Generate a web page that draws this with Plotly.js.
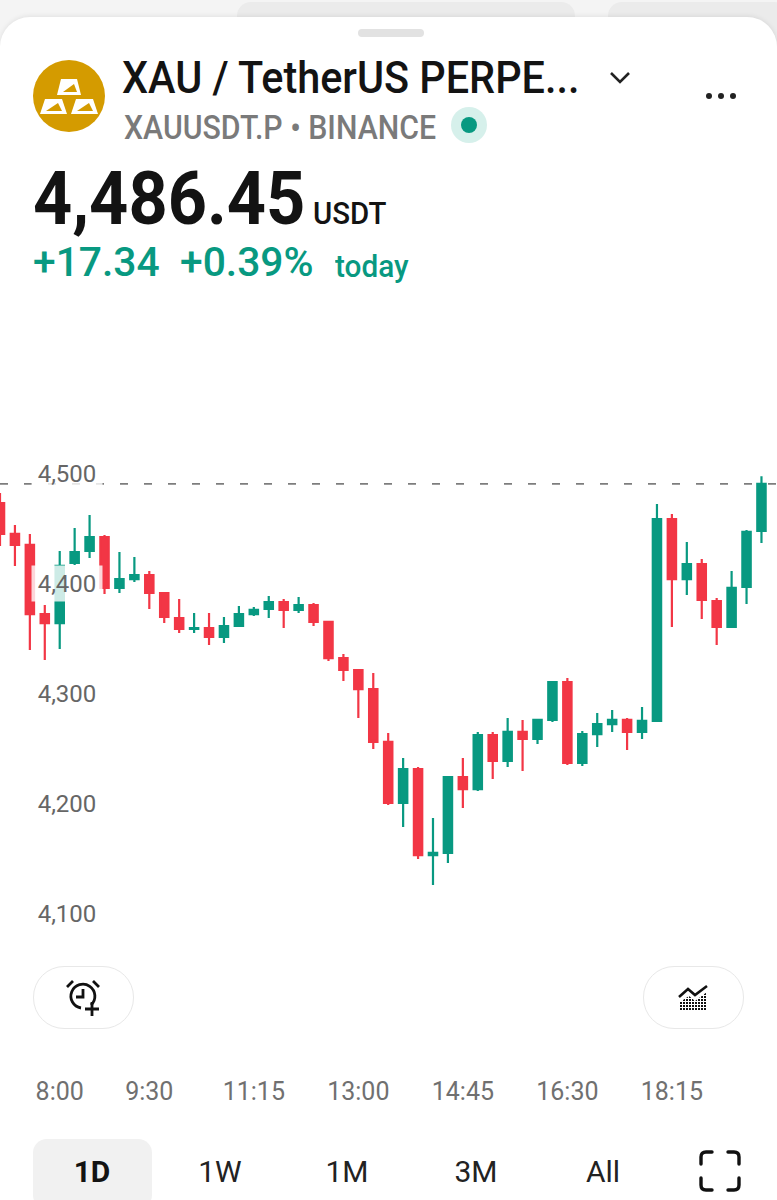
<!DOCTYPE html>
<html><head><meta charset="utf-8">
<script src="https://cdn.plot.ly/plotly-3.0.1.min.js"></script>
<style>
html,body{margin:0;padding:0;background:#f4f4f4;width:777px;height:1200px;overflow:hidden;font-family:Roboto,sans-serif}
.abs{position:absolute;white-space:nowrap;line-height:1}
#tab1,#tab2{position:absolute;top:2px;height:40px;background:#ebebeb;border-radius:14px}
#card{position:absolute;left:0;top:17px;width:777px;height:1183px;background:#fff;border-radius:30px 30px 0 0;box-shadow:0 -1px 5px rgba(0,0,0,.08)}
#plot{position:absolute;left:0;top:430px;width:777px;height:680px}
.pill{position:absolute;top:966px;width:99px;height:61px;border:1.5px solid #e8e8e8;border-radius:31px;background:#fff}
</style></head><body>
<div id="tab1" style="left:237px;width:338px"></div>
<div id="tab2" style="left:608px;width:180px"></div>
<div id="card"></div>
<div class="abs" style="left:358px;top:29px;width:66px;height:8px;border-radius:4px;background:#e2e2e2"></div>
<svg class="abs" style="left:33px;top:60px" width="72" height="72" viewBox="0 0 72 72">
<circle cx="36" cy="36" r="36" fill="#d49b00"/>
<path d="M28 19 L44 19 L48 35 L24 35 Z M12 39 L29 39 L34 54 L7 54 Z M43 39 L60 39 L65 54 L38 54 Z" fill="#fff"/>
<path d="M30 32 L41 24 L44 32 Z M13 51 L25 43 L29 51 Z M44 51 L56 43 L60 51 Z" fill="#d49b00"/>
</svg>
<div class="abs" id="t1" style="left:122px;top:56px;font-size:44px;font-weight:500;color:#131313;transform-origin:left;transform:scaleX(.94)">XAU / TetherUS PERPE...</div>
<svg class="abs" style="left:608px;top:70px" width="24" height="16"><path d="M3 3 L12 12 L21 3" fill="none" stroke="#222" stroke-width="2.6"/></svg>
<svg class="abs" style="left:704px;top:90px" width="34" height="12"><circle cx="5" cy="6" r="3" fill="#222"/><circle cx="17" cy="6" r="3" fill="#222"/><circle cx="29" cy="6" r="3" fill="#222"/></svg>
<div class="abs" id="t2" style="left:124px;top:111px;font-size:33px;font-weight:500;color:#7a7a7a;transform-origin:left;transform:scaleX(.917)">XAUUSDT.P • BINANCE</div>
<svg class="abs" style="left:451px;top:107px" width="36" height="36"><circle cx="18" cy="18" r="18" fill="#d6f0eb"/><circle cx="18" cy="18" r="8" fill="#089981"/></svg>
<div class="abs" id="t3" style="left:33px;top:162px;font-size:74px;font-weight:700;color:#131313;transform-origin:left;transform:scaleX(.925)">4,486.45</div>
<div class="abs" style="left:313px;top:197px;font-size:32px;font-weight:500;color:#131313;transform-origin:left;transform:scaleX(.92)">USDT</div>
<div class="abs" style="left:33px;top:243px;font-size:40px;font-weight:500;color:#089981;transform-origin:left;transform:scaleX(1.02)">+17.34</div>
<div class="abs" style="left:180px;top:243px;font-size:40px;font-weight:500;color:#089981;transform-origin:left;transform:scaleX(1.02)">+0.39%</div>
<div class="abs" style="left:335px;top:251px;font-size:31px;font-weight:500;color:#089981;transform-origin:left;transform:scaleX(.96)">today</div>
<div id="plot"></div>
<div class="pill" style="left:33px"></div>
<div class="pill" style="left:643px"></div>
<svg class="abs" style="left:62px;top:978px" width="44" height="40" viewBox="0 0 44 40" fill="none" stroke="#111" stroke-width="2.8">
<path d="M29 27 A12 12 0 1 0 19 30"/><path d="M21 11 V19 H14"/><path d="M5 9 L11 3 M37 9 L31 3"/><path d="M30 24 V38 M23 31 H37"/></svg>
<svg class="abs" style="left:677px;top:984px" width="34" height="28" viewBox="0 0 34 28">
<defs><pattern id="dots" width="3" height="3" patternUnits="userSpaceOnUse"><rect width="2" height="2" fill="#111"/></pattern></defs>
<path d="M3 26 V18 L12 12 L18 17 L30 8 V26 Z" fill="url(#dots)"/>
<path d="M2 13 L11 5 L18 11 L30 2" fill="none" stroke="#111" stroke-width="2.6"/></svg>
<div class="abs" style="left:33px;top:1139px;width:119px;height:70px;border-radius:14px;background:#f1f1f1"></div>
<div class="abs" style="left:92px;top:1172px;font-size:30px;font-weight:700;color:#131313;transform:translate(-50%,-50%)">1D</div>
<div class="abs" style="left:220px;top:1172px;font-size:30px;color:#222;transform:translate(-50%,-50%)">1W</div>
<div class="abs" style="left:347px;top:1172px;font-size:30px;color:#222;transform:translate(-50%,-50%)">1M</div>
<div class="abs" style="left:476px;top:1172px;font-size:30px;color:#222;transform:translate(-50%,-50%)">3M</div>
<div class="abs" style="left:603px;top:1172px;font-size:30px;color:#222;transform:translate(-50%,-50%)">All</div>
<svg class="abs" style="left:699px;top:1150px" width="42" height="42" fill="none" stroke="#111" stroke-width="3.4" stroke-linecap="round">
<path d="M2 14 V7 Q2 2 7 2 H13 M29 2 H35 Q40 2 40 7 V14 M2 28 V35 Q2 40 7 40 H13 M40 28 V35 Q40 40 35 40 H29"/></svg>
<script>
const times = ["7:00","7:15","7:30","7:45","8:00","8:15","8:30","8:45","9:00","9:15","9:30","9:45","10:00","10:15","10:30","10:45","11:00","11:15","11:30","11:45","12:00","12:15","12:30","12:45","13:00","13:15","13:30","13:45","14:00","14:15","14:30","14:45","15:00","15:15","15:30","15:45","16:00","16:15","16:30","16:45","17:00","17:15","17:30","17:45","18:00","18:15","18:30","18:45","19:00","19:15","19:30","19:45"];
const opens = [4473.6,4445.5,4435.5,4372.7,4364.5,4419.1,4430,4442.7,4396.4,4404.5,4408.2,4391.8,4369.1,4359.1,4360,4351.8,4361.8,4372.7,4377.3,4383.6,4376.4,4380.9,4365.5,4332.7,4321.8,4304.5,4256.4,4200.9,4231.8,4153.6,4155.5,4224.5,4213.6,4262.7,4239.1,4265.5,4259.1,4276.4,4310.9,4237.3,4263.6,4272.7,4276.4,4265.5,4275.5,4459.1,4404.5,4418.2,4384.5,4360.9,4397.3,4448.2];
const highs = [4482.7,4453.6,4445.5,4380.9,4430,4450.9,4462.7,4444.5,4429.1,4424.5,4411.8,4391.8,4386.4,4373.6,4373.6,4370,4380,4379.1,4389.1,4386.4,4388.2,4382.7,4365.5,4336.4,4321.8,4319.1,4264.5,4241.8,4233.6,4187.3,4225.5,4241.8,4265.5,4265.5,4278.2,4276.4,4277.3,4310.9,4314.5,4266.4,4282.7,4285.5,4278.2,4288.2,4472.7,4463.6,4438.2,4422.7,4387.3,4411.8,4449.1,4498];
const lows = [4434.5,4416.4,4340,4330.9,4340.9,4417.3,4423.6,4390.9,4391.8,4401.8,4377.3,4364.5,4355.5,4355.5,4344.5,4346.4,4361.8,4370.9,4369.1,4360,4373.6,4361.8,4330,4311.8,4278.2,4250,4199.1,4179.1,4150,4126.4,4146.4,4196.4,4211.8,4222.7,4233.6,4230,4254.5,4274.5,4235.5,4234.5,4251.8,4265.5,4249.1,4259.1,4275.5,4360.9,4390,4368.2,4344.5,4360.9,4381.8,4437.3];
const closes = [4445.5,4435.5,4372.7,4364.5,4416.4,4429.1,4442.7,4396.4,4404.5,4408.2,4391.8,4370,4359.1,4360,4351.8,4361.8,4372.7,4376.4,4383.6,4376.4,4380.9,4365.5,4332.7,4321.8,4304.5,4256.4,4200.9,4231.8,4153.6,4155.5,4224.5,4213.6,4262.7,4239.1,4265.5,4259.1,4276.4,4310.9,4237.3,4263.6,4272.7,4276.4,4265.5,4275.5,4459.1,4404.5,4418.2,4385.5,4360.9,4396.4,4447.3,4491];
const xTickVals = ["8:00","9:30","11:15","13:00","14:45","16:30","18:15"];
const yTickVals = [4100,4200,4300,4400,4500];
const yTickText = ["4,100","4,200","4,300","4,400","4,500"];
const GREEN = "#089981", RED = "#f23645";

const trace = {
  type: "candlestick", x: times, open: opens, high: highs, low: lows, close: closes,
  whiskerwidth: 0, hoverinfo: "skip",
  increasing: {line: {color: GREEN, width: 2.2}, fillcolor: GREEN},
  decreasing: {line: {color: RED, width: 2.2}, fillcolor: RED}
};
const layout = {
  width: 777, height: 680,
  margin: {l: 0, r: 0, t: 0, b: 42},
  paper_bgcolor: "rgba(0,0,0,0)", plot_bgcolor: "rgba(0,0,0,0)",
  showlegend: false, boxgap: 0.2,
  xaxis: {
    type: "category", range: [0, 52.04], rangeslider: {visible: false},
    categoryorder: "array", categoryarray: times,
    tickmode: "array", tickvals: xTickVals, ticktext: xTickVals, ticklabelstandoff: 6,
    showgrid: false, zeroline: false, showline: false, ticks: "",
    tickangle: 0, tickfont: {family: "Roboto, sans-serif", size: 25, color: "#707070"}
  },
  yaxis: {
    range: [3960, 4540], tickmode: "array", tickvals: yTickVals, ticktext: yTickText,
    showticklabels: false, showgrid: false, zeroline: false, showline: false, ticks: ""
  },
  shapes: [{
    type: "line", xref: "paper", x0: 0, x1: 1, yref: "y",
    y0: closes[closes.length - 1], y1: closes[closes.length - 1], layer: "below",
    line: {color: "#7d7d7d", width: 1.8, dash: "8px,16px"}
  }],
  annotations: yTickVals.map((v, k) => ({
    xref: "paper", x: 67 / 777, xanchor: "center", yref: "y", y: v, yanchor: "middle", yshift: 1,
    text: yTickText[k], showarrow: false, width: 68, height: 33, align: "center", valign: "middle",
    bgcolor: "rgba(255,255,255,0.8)",
    font: {family: "Roboto, sans-serif", size: 24, color: "#666666"}
  }))
};
Plotly.newPlot("plot", [trace], layout, {staticPlot: true, displayModeBar: false});
</script>
</body></html>
